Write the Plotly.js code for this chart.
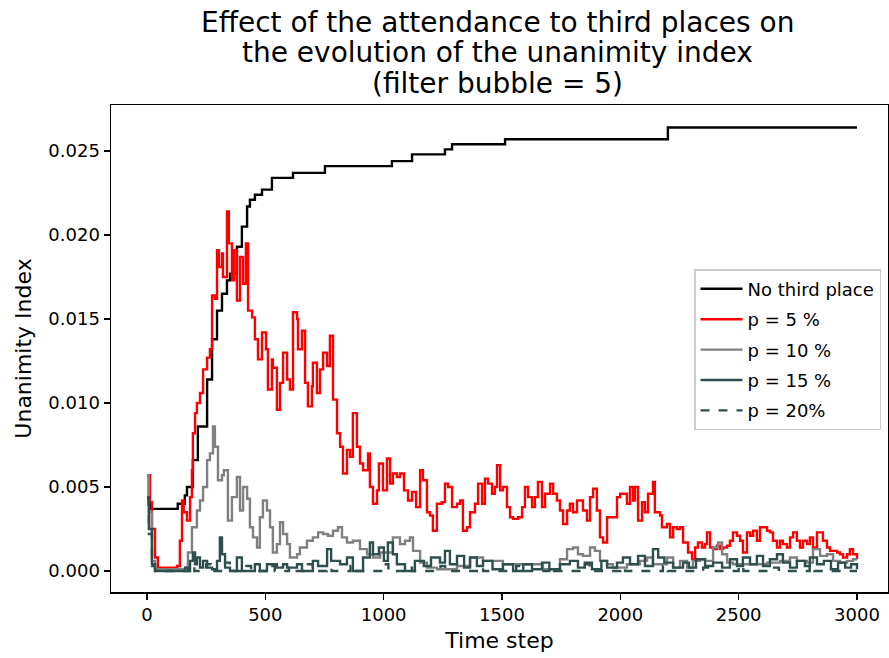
<!DOCTYPE html>
<html>
<head>
<meta charset="utf-8">
<script src="https://cdn.plot.ly/plotly-3.0.1.min.js"></script>
<style>
html,body{margin:0;padding:0;background:#fff;}
#chart{width:889px;height:658px;}
</style>
</head>
<body>
<div id="chart"></div>
<script>
// ---- Data ----
const titleLines = ["Effect of the attendance to third places on", "the evolution of the unanimity index", "(filter bubble = 5)"];
const seriesNames = ["No third place", "p = 5 %", "p = 10 %", "p = 15 %", "p = 20%"];

const tNoThird = [0,8,13,127,130,148,160,169,194,215,254,275,296,317,338,351,380,401,423,435,456,486,528,617,752,1035,1120,1259,1289,1513,2201,3000];
const vNoThird = [0.0057,0.0040,0.0037,0.0037,0.0040,0.0040,0.0045,0.0050,0.0066,0.0086,0.0114,0.0138,0.0155,0.0165,0.0173,0.0177,0.0193,0.0205,0.0217,0.0221,0.0224,0.0227,0.0234,0.0237,0.0241,0.0244,0.0248,0.0251,0.0254,0.0257,0.0264,0.0264];

const tP5 = [0,13,21,34,46,80,127,139,148,155,169,182,190,194,203,211,224,237,254,266,275,287,296,304,317,321,338,346,359,368,380,393,406,418,427,444,456,469,486,503,511,528,532,549,562,575,592,604,617,634,638,655,668,680,697,701,718,731,744,761,773,786,803,816,828,845,858,870,887,900,913,934,942,955,972,980,997,1014,1027,1039,1056,1069,1086,1103,1120,1137,1154,1166,1183,1196,1208,1225,1246,1259,1272,1289,1310,1323,1335,1352,1365,1386,1399,1416,1428,1441,1458,1470,1479,1492,1504,1521,1534,1547,1568,1585,1597,1610,1627,1639,1652,1669,1682,1703,1716,1732,1745,1758,1775,1787,1800,1817,1830,1842,1859,1872,1885,1901,1914,1927,1944,1969,1986,1999,2011,2028,2041,2054,2062,2075,2092,2104,2117,2138,2146,2168,2176,2197,2210,2223,2239,2252,2265,2286,2303,2316,2328,2345,2358,2366,2379,2392,2408,2421,2434,2451,2463,2476,2493,2506,2518,2535,2548,2561,2577,2590,2603,2620,2632,2645,2662,2675,2687,2704,2717,2730,2746,2759,2772,2789,2801,2814,2831,2844,2856,2873,2886,2899,2916,2928,2941,2958,2970,2983,3000];
const vP5 = [0.0057,0.0041,0.0025,0.0008,0.0002,0.0002,0.0003,0.0018,0.0042,0.0035,0.0030,0.0044,0.0060,0.0082,0.0094,0.0100,0.0106,0.0120,0.0127,0.0132,0.0164,0.0162,0.0191,0.0181,0.0189,0.0175,0.0214,0.0195,0.0173,0.0191,0.0161,0.0187,0.0171,0.0195,0.0155,0.0151,0.0138,0.0126,0.0142,0.0132,0.0108,0.0126,0.0121,0.0096,0.0112,0.0130,0.0114,0.0108,0.0154,0.0150,0.0132,0.0143,0.0112,0.0098,0.0110,0.0124,0.0106,0.0120,0.0130,0.0122,0.0140,0.0102,0.0082,0.0074,0.0058,0.0072,0.0068,0.0094,0.0074,0.0064,0.0060,0.0070,0.0050,0.0040,0.0048,0.0064,0.0048,0.0067,0.0052,0.0058,0.0056,0.0058,0.0048,0.0042,0.0047,0.0038,0.0060,0.0054,0.0035,0.0033,0.0024,0.0040,0.0041,0.0052,0.0050,0.0038,0.0040,0.0042,0.0024,0.0026,0.0035,0.0040,0.0052,0.0040,0.0055,0.0052,0.0046,0.0050,0.0063,0.0048,0.0050,0.0038,0.0032,0.0031,0.0032,0.0038,0.0050,0.0044,0.0038,0.0044,0.0053,0.0038,0.0046,0.0052,0.0046,0.0042,0.0036,0.0028,0.0036,0.0040,0.0035,0.0042,0.0042,0.0036,0.0030,0.0044,0.0049,0.0036,0.0020,0.0017,0.0032,0.0032,0.0044,0.0046,0.0046,0.0040,0.0050,0.0042,0.0050,0.0030,0.0041,0.0035,0.0046,0.0053,0.0035,0.0033,0.0026,0.0028,0.0020,0.0026,0.0025,0.0026,0.0017,0.0011,0.0007,0.0014,0.0017,0.0014,0.0016,0.0023,0.0014,0.0013,0.0015,0.0013,0.0014,0.0015,0.0018,0.0023,0.0021,0.0018,0.0011,0.0023,0.0021,0.0024,0.0018,0.0026,0.0026,0.0024,0.0023,0.0018,0.0014,0.0018,0.0016,0.0014,0.0020,0.0023,0.0018,0.0014,0.0018,0.0016,0.0020,0.0014,0.0023,0.0023,0.0018,0.0014,0.0012,0.0012,0.0011,0.0010,0.0008,0.0010,0.0013,0.0010,0.0007];

const tP10 = [0,8,21,34,100,161,173,190,211,224,237,254,266,279,287,300,317,325,342,359,380,393,406,423,435,448,465,477,490,507,520,532,549,562,575,592,604,617,634,646,676,701,723,744,765,786,807,824,845,870,900,930,955,985,1014,1039,1069,1090,1111,1124,1154,1183,1225,1310,1365,1420,1504,1576,1673,1745,1775,1800,1821,1842,1872,1893,1914,1944,1969,2028,2083,2113,2138,2197,2223,2252,2282,2307,2337,2358,2392,2413,2430,2451,2476,2548,2620,2675,2717,2746,2789,2814,2844,2873,2899,2928,2958,2983,3000];
const vP10 = [0.0057,0.0035,0.0006,0.0001,0.0001,0.0002,0.0011,0.0026,0.0036,0.0042,0.0050,0.0066,0.0070,0.0086,0.0074,0.0054,0.0057,0.0060,0.0030,0.0044,0.0056,0.0036,0.0050,0.0043,0.0026,0.0020,0.0014,0.0032,0.0042,0.0036,0.0026,0.0011,0.0016,0.0029,0.0022,0.0016,0.0008,0.0008,0.0010,0.0014,0.0018,0.0020,0.0023,0.0022,0.0021,0.0024,0.0026,0.0020,0.0017,0.0018,0.0013,0.0010,0.0008,0.0011,0.0011,0.0020,0.0016,0.0018,0.0020,0.0012,0.0005,0.0002,0.0001,0.0003,0.0008,0.0006,0.0004,0.0004,0.0001,0.0007,0.0013,0.0014,0.0010,0.0009,0.0014,0.0012,0.0006,0.0004,0.0002,0.0004,0.0006,0.0008,0.0004,0.0008,0.0002,0.0006,0.0002,0.0006,0.0007,0.0006,0.0014,0.0017,0.0010,0.0005,0.0004,0.0004,0.0005,0.0006,0.0008,0.0006,0.0005,0.0013,0.0009,0.0010,0.0006,0.0005,0.0006,0.0007,0.0007];

const tP15 = [0,8,21,34,150,161,173,182,194,203,211,224,237,254,275,296,308,317,330,351,380,401,440,456,477,507,549,575,592,634,655,701,723,761,778,816,845,870,913,942,955,980,1001,1018,1039,1056,1090,1132,1170,1200,1238,1259,1280,1310,1340,1365,1394,1420,1460,1504,1547,1590,1627,1669,1700,1745,1787,1821,1850,1880,1920,1944,1986,2011,2041,2075,2104,2138,2160,2186,2223,2265,2290,2320,2358,2392,2430,2463,2493,2518,2548,2577,2603,2632,2662,2687,2717,2746,2780,2801,2831,2860,2890,2920,2950,2975,3000];
const vP15 = [0.0044,0.0025,0.0004,0.0000,0.0000,0.0002,0.0000,0.0006,0.0011,0.0004,0.0008,0.0002,0.0006,0.0002,0.0001,0.0006,0.0020,0.0010,0.0002,0.0000,0.0008,0.0000,0.0000,0.0004,0.0000,0.0004,0.0002,0.0004,0.0002,0.0004,0.0000,0.0006,0.0003,0.0013,0.0006,0.0004,0.0008,0.0000,0.0008,0.0017,0.0010,0.0014,0.0006,0.0017,0.0010,0.0004,0.0000,0.0006,0.0003,0.0008,0.0005,0.0012,0.0004,0.0009,0.0002,0.0008,0.0003,0.0006,0.0001,0.0004,0.0000,0.0004,0.0001,0.0005,0.0001,0.0004,0.0006,0.0002,0.0005,0.0001,0.0006,0.0002,0.0005,0.0008,0.0004,0.0009,0.0003,0.0013,0.0008,0.0005,0.0002,0.0005,0.0002,0.0007,0.0003,0.0005,0.0002,0.0007,0.0003,0.0008,0.0004,0.0009,0.0003,0.0007,0.0010,0.0005,0.0002,0.0006,0.0003,0.0008,0.0004,0.0006,0.0001,0.0005,0.0002,0.0004,0.0001];

const tP20 = [0,8,21,34,160,180,200,250,270,330,350,420,440,520,540,600,620,680,700,760,780,860,880,1000,1020,1100,1120,1240,1260,1400,1420,1560,1580,1700,1720,1850,1870,2000,2020,2180,2200,2350,2370,2500,2520,2650,2670,2800,2820,3000];
const vP20 = [0.0043,0.0022,0.0003,0.0000,0.0000,0.0003,0.0000,0.0004,0.0000,0.0005,0.0000,0.0003,0.0000,0.0003,0.0000,0.0002,0.0000,0.0004,0.0000,0.0002,0.0000,0.0003,0.0000,0.0004,0.0000,0.0002,0.0000,0.0003,0.0000,0.0002,0.0000,0.0003,0.0000,0.0002,0.0000,0.0004,0.0000,0.0002,0.0000,0.0003,0.0000,0.0002,0.0000,0.0003,0.0000,0.0002,0.0000,0.0003,0.0000,0.0000];

const xTicks = [0,500,1000,1500,2000,2500,3000];
const yTicks = [0,0.005,0.010,0.015,0.020,0.025];

// ---- Traces ----
const colors = ["#000000", "#ff0000", "#808080", "#2f4f4f", "#2f4f4f"];
const xs = [tNoThird, tP5, tP10, tP15, tP20];
const ys = [vNoThird, vP5, vP10, vP15, vP20];
const traces = seriesNames.map((n, i) => ({
  x: xs[i], y: ys[i], name: n, mode: "lines", legendgroup: "g" + i,
  line: {color: colors[i], width: 2.4, shape: "hv", dash: i === 4 ? "dash" : "solid"}
}));

const font = "DejaVu Sans, sans-serif";
// title lines placed individually for matplotlib-like line spacing
const titleY = [1.170, 1.108, 1.045];
const annotations = titleLines.map((t, i) => ({
  text: t, xref: "paper", yref: "paper", x: 0.497, y: titleY[i],
  xanchor: "center", yanchor: "middle", showarrow: false,
  font: {family: font, size: 28, color: "#000000"}
}));

const layout = {
  width:889, height:658,
  paper_bgcolor:"#ffffff", plot_bgcolor:"#ffffff",
  margin:{l:111, r:1, t:105, b:66},
  font:{family:font, color:"#000000", size:18},
  annotations: annotations,
  xaxis:{
    range:[-152,3131], tickvals:xTicks, ticktext:xTicks.map(String),
    showgrid:false, zeroline:false, showline:true, mirror:true, linecolor:"#000000", linewidth:1.5,
    ticks:"outside", ticklen:6, tickwidth:1.5, tickcolor:"#000000",
    tickfont:{family:font, size:18},
    title:{text:"Time step", font:{family:font, size:22}, standoff:8}
  },
  yaxis:{
    range:[-0.00125,0.02774], tickvals:yTicks, ticktext:yTicks.map(v=>v.toFixed(3)),
    showgrid:false, zeroline:false, showline:true, mirror:true, linecolor:"#000000", linewidth:1.5,
    ticks:"outside", ticklen:6, tickwidth:1.5, tickcolor:"#000000",
    tickfont:{family:font, size:18},
    title:{text:"Unanimity Index", font:{family:font, size:22}, standoff:10}
  },
  legend:{
    x:0.991, xanchor:"right", y:0.663, yanchor:"top",
    bgcolor:"rgba(255,255,255,0.8)", bordercolor:"#cccccc", borderwidth:1.5,
    font:{family:font, size:18}, tracegroupgap:4, itemwidth:42, entrywidth:170
  },
  showlegend:true
};

Plotly.newPlot("chart", traces, layout, {displayModeBar:false, staticPlot:true});
</script>
</body>
</html>
